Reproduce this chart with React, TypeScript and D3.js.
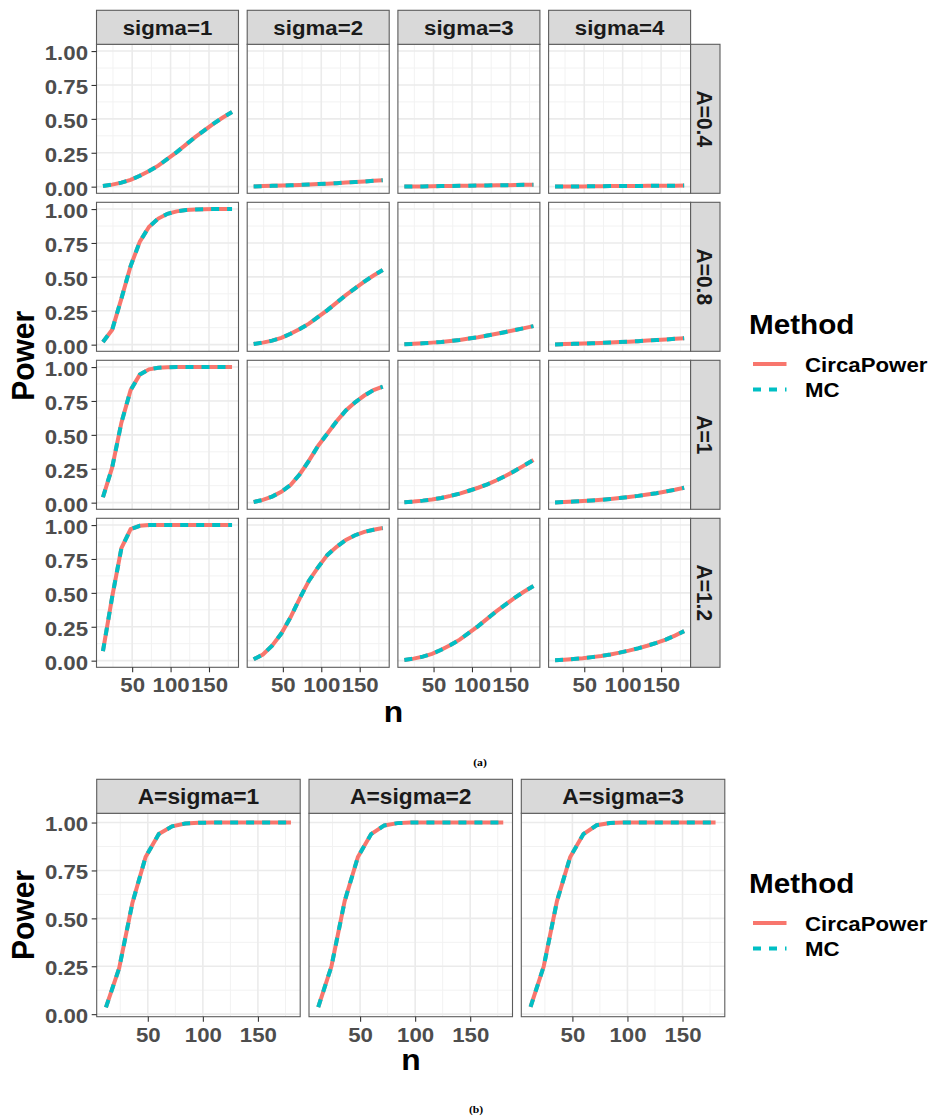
import React, { useRef, useEffect } from "react";
import * as d3 from "d3";

// sample sizes on the x axis (every panel)
const sampleSizes = [12, 24, 36, 48, 60, 72, 84, 96, 108, 120, 132, 144, 156, 168, 180];

const sigmaLabels = ["sigma=1", "sigma=2", "sigma=3", "sigma=4"];
const ampLabels = ["A=0.4", "A=0.8", "A=1", "A=1.2"];
const equalLabels = ["A=sigma=1", "A=sigma=2", "A=sigma=3"];
const methods = ["CircaPower", "MC"];

const yTicks = [0, 0.25, 0.5, 0.75, 1];
const yMinor = [0.125, 0.375, 0.625, 0.875];
const xTicks = [50, 100, 150];
const xMinor = [25, 75, 125, 175];

// power, one array per sigma column
// (MC curves sit right on top of the CircaPower ones)
const powerA04 = [
  [0.005, 0.015, 0.03, 0.05, 0.08, 0.115, 0.155, 0.205, 0.255, 0.31, 0.365, 0.415, 0.465, 0.51, 0.55],
  [0.002, 0.004, 0.006, 0.008, 0.01, 0.013, 0.016, 0.019, 0.022, 0.026, 0.03, 0.034, 0.038, 0.043, 0.048],
  [0.001, 0.002, 0.002, 0.003, 0.004, 0.005, 0.006, 0.007, 0.008, 0.009, 0.01, 0.011, 0.012, 0.014, 0.015],
  [0.001, 0.001, 0.002, 0.002, 0.003, 0.003, 0.004, 0.004, 0.005, 0.005, 0.006, 0.006, 0.007, 0.007, 0.008],
];
const powerA08 = [
  [0.02, 0.11, 0.34, 0.58, 0.76, 0.87, 0.93, 0.965, 0.983, 0.993, 0.997, 0.999, 1, 1, 1],
  [0.005, 0.015, 0.03, 0.05, 0.08, 0.115, 0.155, 0.205, 0.255, 0.31, 0.365, 0.415, 0.465, 0.51, 0.55],
  [0.003, 0.006, 0.01, 0.015, 0.02, 0.027, 0.035, 0.045, 0.055, 0.067, 0.08, 0.094, 0.108, 0.122, 0.137],
  [0.002, 0.004, 0.006, 0.008, 0.01, 0.013, 0.016, 0.019, 0.022, 0.026, 0.03, 0.034, 0.038, 0.043, 0.048],
];
const powerA1 = [
  [0.04, 0.26, 0.59, 0.83, 0.945, 0.983, 0.995, 0.999, 1, 1, 1, 1, 1, 1, 1],
  [0.005, 0.02, 0.045, 0.08, 0.13, 0.21, 0.31, 0.42, 0.51, 0.6, 0.68, 0.74, 0.79, 0.83, 0.855],
  [0.003, 0.008, 0.015, 0.024, 0.035, 0.05, 0.067, 0.088, 0.11, 0.135, 0.165, 0.198, 0.235, 0.275, 0.315],
  [0.002, 0.005, 0.008, 0.012, 0.016, 0.021, 0.027, 0.034, 0.042, 0.05, 0.06, 0.07, 0.082, 0.095, 0.11],
];
const powerA12 = [
  [0.07, 0.47, 0.83, 0.97, 0.995, 1, 1, 1, 1, 1, 1, 1, 1, 1, 1],
  [0.01, 0.045, 0.11, 0.2, 0.32, 0.46, 0.59, 0.69, 0.78, 0.84, 0.89, 0.925, 0.95, 0.965, 0.978],
  [0.005, 0.015, 0.03, 0.05, 0.08, 0.115, 0.155, 0.205, 0.255, 0.31, 0.365, 0.415, 0.465, 0.51, 0.55],
  [0.003, 0.007, 0.012, 0.018, 0.026, 0.035, 0.046, 0.059, 0.074, 0.091, 0.11, 0.131, 0.155, 0.185, 0.218],
];
const powerEqual = [
  [0.035, 0.24, 0.58, 0.82, 0.94, 0.98, 0.995, 0.999, 1, 1, 1, 1, 1, 1, 1],
  [0.037, 0.25, 0.59, 0.82, 0.94, 0.985, 0.997, 1, 1, 1, 1, 1, 1, 1, 1],
  [0.038, 0.25, 0.59, 0.82, 0.94, 0.986, 0.998, 1, 1, 1, 1, 1, 1, 1, 1],
];

const FONT = "'Liberation Sans', Arial, Helvetica, sans-serif";
const STRETCH = 1.06; // the reference text looks a bit wide
const RED = "#F8766D";
const TEAL = "#00BFC4";
const BORDER = "#5c5c5c";

const expand = (ext: number[]) => {
  const d = (ext[1] - ext[0]) * 0.05;
  return [ext[0] - d, ext[1] + d];
};

function label(g: any, text: string, x: number, y: number, size: number, o: any = {}) {
  const rot = o.rotate ? ` rotate(${o.rotate})` : "";
  return g
    .append("text")
    .attr("transform", `translate(${x},${y}) scale(${STRETCH},1)${rot}`)
    .attr("text-anchor", o.anchor || "start")
    .attr("dy", o.dy || 0)
    .attr("fill", o.color || "#000")
    .style("font-family", o.family || FONT)
    .style("font-size", size + "px")
    .style("font-weight", "bold")
    .text(text);
}

function drawFacet(svg: any, o: any) {
  const { left, top, w, h, gapX, gapY, rows, colLabels, rowLabels, stripH, stripW, tickFont, stripFont } = o;

  const x = d3.scaleLinear().domain(expand(d3.extent(sampleSizes) as number[])).range([0, w]);
  const allVals = rows.flat(2) as number[];
  const y = d3.scaleLinear().domain(expand(d3.extent(allVals) as number[])).range([h, 0]);

  const line = d3
    .line<number>()
    .x((d, i) => x(sampleSizes[i]))
    .y((d) => y(d));

  rows.forEach((row: number[][], r: number) => {
    row.forEach((vals: number[], c: number) => {
      const px = left + c * (w + gapX);
      const py = top + r * (h + gapY);
      const g = svg.append("g").attr("transform", `translate(${px},${py})`);

      g.append("rect").attr("width", w).attr("height", h).attr("fill", "#fff");

      // grid
      g.selectAll(".xmin").data(xMinor).enter().append("line")
        .attr("x1", (d: number) => x(d)).attr("x2", (d: number) => x(d))
        .attr("y1", 0).attr("y2", h).attr("stroke", "#F2F2F2").attr("stroke-width", 1);
      g.selectAll(".ymin").data(yMinor).enter().append("line")
        .attr("y1", (d: number) => y(d)).attr("y2", (d: number) => y(d))
        .attr("x1", 0).attr("x2", w).attr("stroke", "#F2F2F2").attr("stroke-width", 1);
      g.selectAll(".xmaj").data(xTicks).enter().append("line")
        .attr("x1", (d: number) => x(d)).attr("x2", (d: number) => x(d))
        .attr("y1", 0).attr("y2", h).attr("stroke", "#EBEBEB").attr("stroke-width", 1.6);
      g.selectAll(".ymaj").data(yTicks).enter().append("line")
        .attr("y1", (d: number) => y(d)).attr("y2", (d: number) => y(d))
        .attr("x1", 0).attr("x2", w).attr("stroke", "#EBEBEB").attr("stroke-width", 1.6);

      // CircaPower solid, MC dashed on top
      methods.forEach((m, k) => {
        g.append("path")
          .attr("d", line(vals))
          .attr("fill", "none")
          .attr("stroke", k === 0 ? RED : TEAL)
          .attr("stroke-width", 4)
          .attr("stroke-dasharray", k === 0 ? null : "8,8");
      });

      g.append("rect").attr("width", w).attr("height", h)
        .attr("fill", "none").attr("stroke", BORDER).attr("stroke-width", 1.1);

      if (c === 0) {
        const ya = g.append("g").call(
          d3.axisLeft(y).tickValues(yTicks).tickFormat(d3.format(".2f")).tickSize(5).tickPadding(3)
        );
        ya.select(".domain").remove();
        ya.selectAll("line").attr("stroke", "#333").attr("stroke-width", 1.1);
        ya.selectAll("text")
          .attr("fill", "#4D4D4D").attr("font-family", FONT).attr("font-size", tickFont)
          .attr("font-weight", "bold").attr("dy", "0.4em").attr("transform", `scale(${STRETCH},1)`);
      }
      if (r === rows.length - 1) {
        const xa = g.append("g").attr("transform", `translate(0,${h})`).call(
          d3.axisBottom(x).tickValues(xTicks).tickFormat(d3.format("d")).tickSize(5).tickPadding(5)
        );
        xa.select(".domain").remove();
        xa.selectAll("line").attr("stroke", "#333").attr("stroke-width", 1.1);
        xa.selectAll("text")
          .attr("fill", "#4D4D4D").attr("font-family", FONT).attr("font-size", tickFont)
          .attr("font-weight", "bold").attr("transform", `scale(${STRETCH},1)`);
      }
      if (r === 0) {
        g.append("rect").attr("y", -stripH).attr("width", w).attr("height", stripH)
          .attr("fill", "#D9D9D9").attr("stroke", BORDER).attr("stroke-width", 1.1);
        label(g, colLabels[c], w / 2, -stripH / 2, stripFont, { anchor: "middle", dy: "0.36em", color: "#1A1A1A" });
      }
      if (rowLabels && c === row.length - 1) {
        g.append("rect").attr("x", w).attr("width", stripW).attr("height", h)
          .attr("fill", "#D9D9D9").attr("stroke", BORDER).attr("stroke-width", 1.1);
        label(g, rowLabels[r], w + stripW / 2, h / 2, stripFont, {
          anchor: "middle", dy: "0.36em", color: "#1A1A1A", rotate: 90,
        });
      }
    });
  });
}

function drawLegend(svg: any, x: number, titleY: number) {
  label(svg, "Method", x - 2, titleY, 28);
  methods.forEach((m, i) => {
    const ky = titleY + 29.8 + i * 25.3;
    svg.append("line")
      .attr("x1", x + 2).attr("x2", x + 35.5).attr("y1", ky).attr("y2", ky)
      .attr("stroke", i === 0 ? RED : TEAL).attr("stroke-width", 4)
      .attr("stroke-dasharray", i === 0 ? null : "8,8");
    label(svg, m, x + 54, ky + 7.7, 21);
  });
}

const App = () => {
  const svgRef = useRef<SVGSVGElement>(null);

  useEffect(() => {
    const svg = d3.select(svgRef.current);
    svg.selectAll("*").remove();

    // (a) A x sigma grid
    drawFacet(svg, {
      left: 96.5, top: 44.3, w: 142, h: 149, gapX: 8.7, gapY: 9,
      rows: [powerA04, powerA08, powerA1, powerA12],
      colLabels: sigmaLabels, rowLabels: ampLabels,
      stripH: 34, stripW: 29.4, tickFont: 21, stripFont: 21,
    });
    label(svg, "Power", 34, 355.8, 30, { anchor: "middle", rotate: -90 });
    label(svg, "n", 393.5, 722, 30, { anchor: "middle" });
    drawLegend(svg, 751, 334.3);
    label(svg, "(a)", 480, 766, 11, { anchor: "middle", family: "'Liberation Serif', 'Times New Roman', serif" });

    // (b) A = sigma
    drawFacet(svg, {
      left: 96.7, top: 813.3, w: 203.5, h: 203.4, gapX: 8.8, gapY: 0,
      rows: [powerEqual],
      colLabels: equalLabels, rowLabels: null,
      stripH: 34, stripW: 0, tickFont: 21, stripFont: 21.5,
    });
    label(svg, "Power", 34, 915, 30, { anchor: "middle", rotate: -90 });
    label(svg, "n", 411, 1070, 30, { anchor: "middle" });
    drawLegend(svg, 751, 893.3);
    label(svg, "(b)", 476, 1113, 11, { anchor: "middle", family: "'Liberation Serif', 'Times New Roman', serif" });
  }, []);

  return (
    <svg
      ref={svgRef}
      width={935}
      height={1119}
      style={{ position: "absolute", left: 0, top: 0, background: "#fff" }}
    />
  );
};

export default App;
